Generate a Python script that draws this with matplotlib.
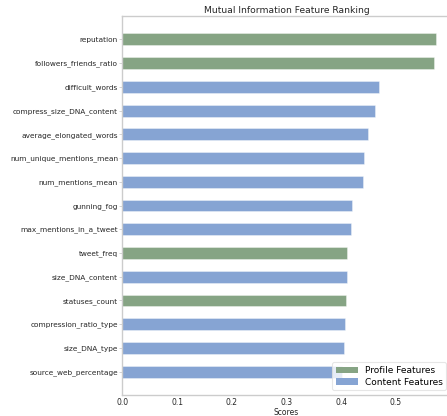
import matplotlib
matplotlib.use("Agg")
import matplotlib.pyplot as plt
from matplotlib.patches import Patch

# Mutual information scores, listed from highest to lowest
features = [
    "reputation",
    "followers_friends_ratio",
    "difficult_words",
    "compress_size_DNA_content",
    "average_elongated_words",
    "num_unique_mentions_mean",
    "num_mentions_mean",
    "gunning_fog",
    "max_mentions_in_a_tweet",
    "tweet_freq",
    "size_DNA_content",
    "statuses_count",
    "compression_ratio_type",
    "size_DNA_type",
    "source_web_percentage",
]
scores = [0.573, 0.570, 0.469, 0.462, 0.449, 0.441, 0.440, 0.419, 0.418,
          0.411, 0.410, 0.409, 0.406, 0.405, 0.401]
groups = ["profile", "profile", "content", "content", "content", "content",
          "content", "content", "content", "profile", "content", "profile",
          "content", "content", "content"]

PROFILE_COLOR = "#86a484"
CONTENT_COLOR = "#86a4d3"
SPINE_COLOR = "#cccccc"

fig = plt.figure(figsize=(4.47, 4.16), dpi=100)
ax = fig.add_axes([0.2735, 0.051, 0.735, 0.910])

# barh draws bottom-up, so reverse to keep the best feature on top
ypos = list(range(len(features)))[::-1]
colors = [PROFILE_COLOR if g == "profile" else CONTENT_COLOR for g in groups]
ax.barh(ypos, scores, height=0.5, color=colors,
        edgecolor=(1, 1, 1, 0.5), linewidth=0.5)

ax.set_yticks(ypos)
ax.set_yticklabels(features, fontsize=5.3, color="#262626")
ax.set_xlim(0, 0.6)
ax.set_ylim(-0.975, 14.975)
ax.set_xticks([0.0, 0.1, 0.2, 0.3, 0.4, 0.5])
ax.tick_params(axis="x", labelsize=5.5, length=0, pad=2, colors="#262626")
ax.tick_params(axis="y", length=2, width=0.6, color=SPINE_COLOR, pad=1)
ax.set_xlabel("Scores", fontsize=5.5, labelpad=1, color="#262626")
ax.set_title("Mutual Information Feature Ranking", fontsize=6.6,
             pad=2, color="#262626")

for side in ax.spines.values():
    side.set_color(SPINE_COLOR)
    side.set_linewidth(1.0)

handles = [Patch(facecolor=PROFILE_COLOR, label="Profile Features"),
           Patch(facecolor=CONTENT_COLOR, label="Content Features")]
leg = ax.legend(handles=handles, loc="lower right", fontsize=6.5,
                frameon=True, fancybox=True, borderaxespad=0.5,
                handlelength=2.4, handletextpad=0.8, borderpad=0.4,
                labelspacing=0.3)
leg.get_frame().set_edgecolor("#e0e0e0")
leg.get_frame().set_linewidth(0.8)

fig.savefig("out.png", dpi=100)
